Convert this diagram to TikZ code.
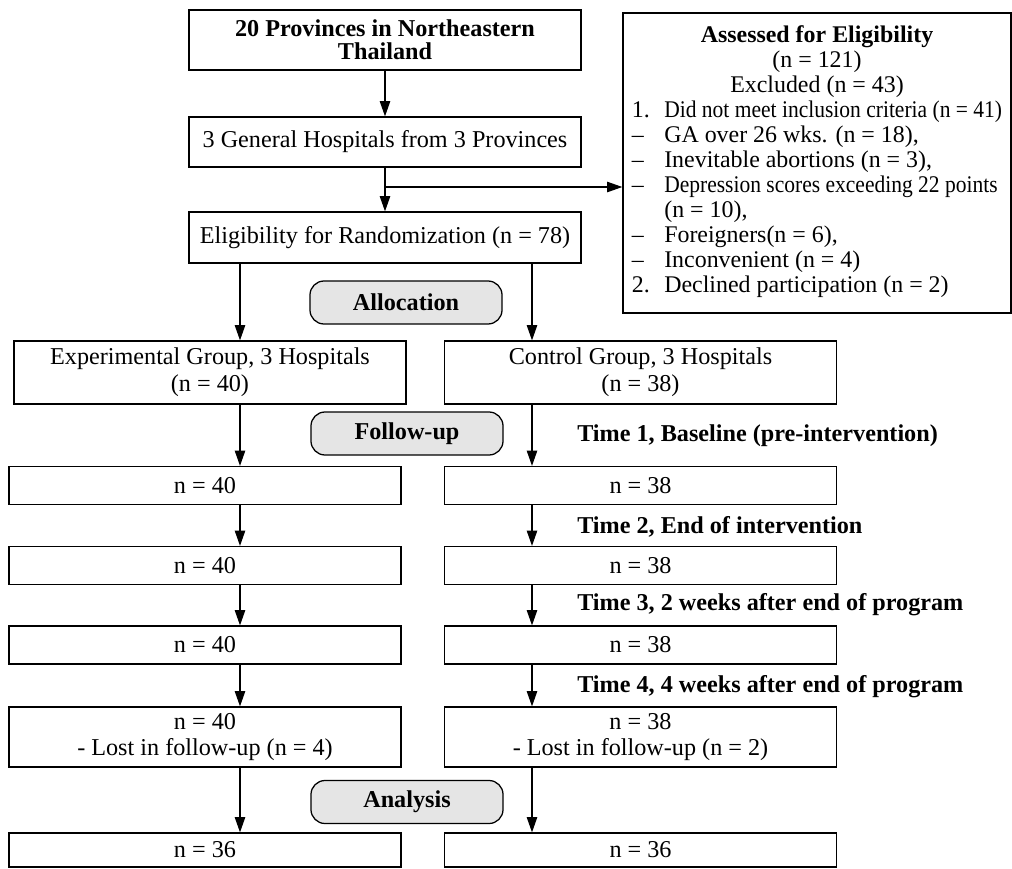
\documentclass[tikz,border=0pt]{standalone}
\usepackage{fontspec}
\setmainfont{Liberation Serif}
\usepackage{graphicx}
\usetikzlibrary{arrows.meta,positioning}
\newcommand{\flowsize}{\fontsize{17.2}{19}\selectfont}
\newcommand{\listsize}{\fontsize{17}{17.8}\selectfont}
\tikzset{
  flowbox/.style={draw, line width=0.9pt, align=center, minimum width=9.8cm, minimum height=0.95cm, inner sep=2pt, font=\flowsize},
  groupbox/.style={flowbox, minimum height=1.575cm},
  stagebox/.style={draw, line width=0.9pt, rounded corners=10pt, fill=gray!20, minimum width=4.8cm, minimum height=1.075cm, font=\flowsize\bfseries},
  timelabel/.style={anchor=west, inner sep=0pt, font=\flowsize\bfseries},
  arrow/.style={-{Triangle[length=0.38cm, width=0.26cm]}, line width=0.8pt}
}

\begin{document}
\begin{tikzpicture}[x=0.025cm, y=-0.025cm]
  \useasboundingbox (0,0) rectangle (1012,868);

  \node[flowbox, minimum height=1.5cm, font=\fontsize{17.2}{16.5}\selectfont\bfseries] (prov) at (385,40) {20 Provinces in Northeastern\\Thailand};
  \node[flowbox, minimum height=1.25cm] (hosp) at (385,142) {3 General Hospitals from 3 Provinces};
  \node[flowbox, minimum height=1.275cm] (elig) at (385,237.5) {Eligibility for Randomization (n = 78)};
  \node[draw, line width=0.9pt, minimum width=9.7cm, minimum height=7.5cm, align=center, inner sep=0pt, font=\listsize] (assess) at (817,163) {%
    \textbf{Assessed for Eligibility}\\(n = 121)\\Excluded (n = 43)\\
    \begin{tabular}[t]{@{}p{23pt}@{}l@{}}
      1. & \scalebox{0.9}[1]{Did not meet inclusion criteria (n = 41)}\\
      – & GA over 26 wks. (n = 18),\\
      – & Inevitable abortions (n = 3),\\
      – & \scalebox{0.9}[1]{Depression scores exceeding 22 points}\\
        & (n = 10),\\
      – & Foreigners(n = 6),\\
      – & Inconvenient (n = 4)\\
      2. & Declined participation (n = 2)
    \end{tabular}};

  \node[stagebox] (alloc) at (406,302.5) {Allocation};
  \node[groupbox] (exp) at (210,372.5) {Experimental Group, 3 Hospitals\\(n = 40)};
  \node[groupbox] (ctrl) at (640.5,372.5) {Control Group, 3 Hospitals\\(n = 38)};
  \node[stagebox] (follow) at (407,433.5) {Follow-up};

  % time points
  \node[timelabel] (time1) at (577,436) {Time 1, Baseline (pre-intervention)};
  \node[timelabel] (time2) at (577,527) {Time 2, End of intervention};
  \node[timelabel] (time3) at (577,605) {Time 3, 2 weeks after end of program};
  \node[timelabel] (time4) at (577,687) {Time 4, 4 weeks after end of program};

  \node[flowbox] (expA) at (205,485.5) {n = 40};
  \node[flowbox] (ctrlA) at (640.5,485.5) {n = 38};
  \node[flowbox] (expB) at (205,565.5) {n = 40};
  \node[flowbox] (ctrlB) at (640.5,565.5) {n = 38};
  \node[flowbox] (expC) at (205,645) {n = 40};
  \node[flowbox] (ctrlC) at (640.5,645) {n = 38};
  \node[flowbox, minimum height=1.5cm] (expD) at (205,737) {n = 40\\- Lost in follow-up (n = 4)};
  \node[flowbox, minimum height=1.5cm] (ctrlD) at (640.5,737) {n = 38\\- Lost in follow-up (n = 2)};
  \node[stagebox] (analysis) at (407,802) {Analysis};
  \node[flowbox, minimum height=0.85cm] (expE) at (205,850) {n = 36};
  \node[flowbox, minimum height=0.85cm] (ctrlE) at (640.5,850) {n = 36};

  \coordinate (lcol) at (240,0);
  \coordinate (rcol) at (532,0);
  \coordinate (branch) at (385,187);

  \draw[arrow] (prov) -- (hosp);
  \draw[arrow] (hosp) -- (elig);
  \draw[arrow] (branch) -- (branch -| assess.west);
  \draw[arrow] (elig.south -| lcol) -- (exp.north -| lcol);
  \draw[arrow] (elig.south -| rcol) -- (ctrl.north -| rcol);
  \draw[arrow] (exp.south -| lcol) -- (expA.north -| lcol);
  \draw[arrow] (ctrl.south -| rcol) -- (ctrlA.north -| rcol);
  \draw[arrow] (expA.south -| lcol) -- (expB.north -| lcol);
  \draw[arrow] (ctrlA.south -| rcol) -- (ctrlB.north -| rcol);
  \draw[arrow] (expB.south -| lcol) -- (expC.north -| lcol);
  \draw[arrow] (ctrlB.south -| rcol) -- (ctrlC.north -| rcol);
  \draw[arrow] (expC.south -| lcol) -- (expD.north -| lcol);
  \draw[arrow] (ctrlC.south -| rcol) -- (ctrlD.north -| rcol);
  \draw[arrow] (expD.south -| lcol) -- (expE.north -| lcol);
  \draw[arrow] (ctrlD.south -| rcol) -- (ctrlE.north -| rcol);
\end{tikzpicture}
\end{document}
